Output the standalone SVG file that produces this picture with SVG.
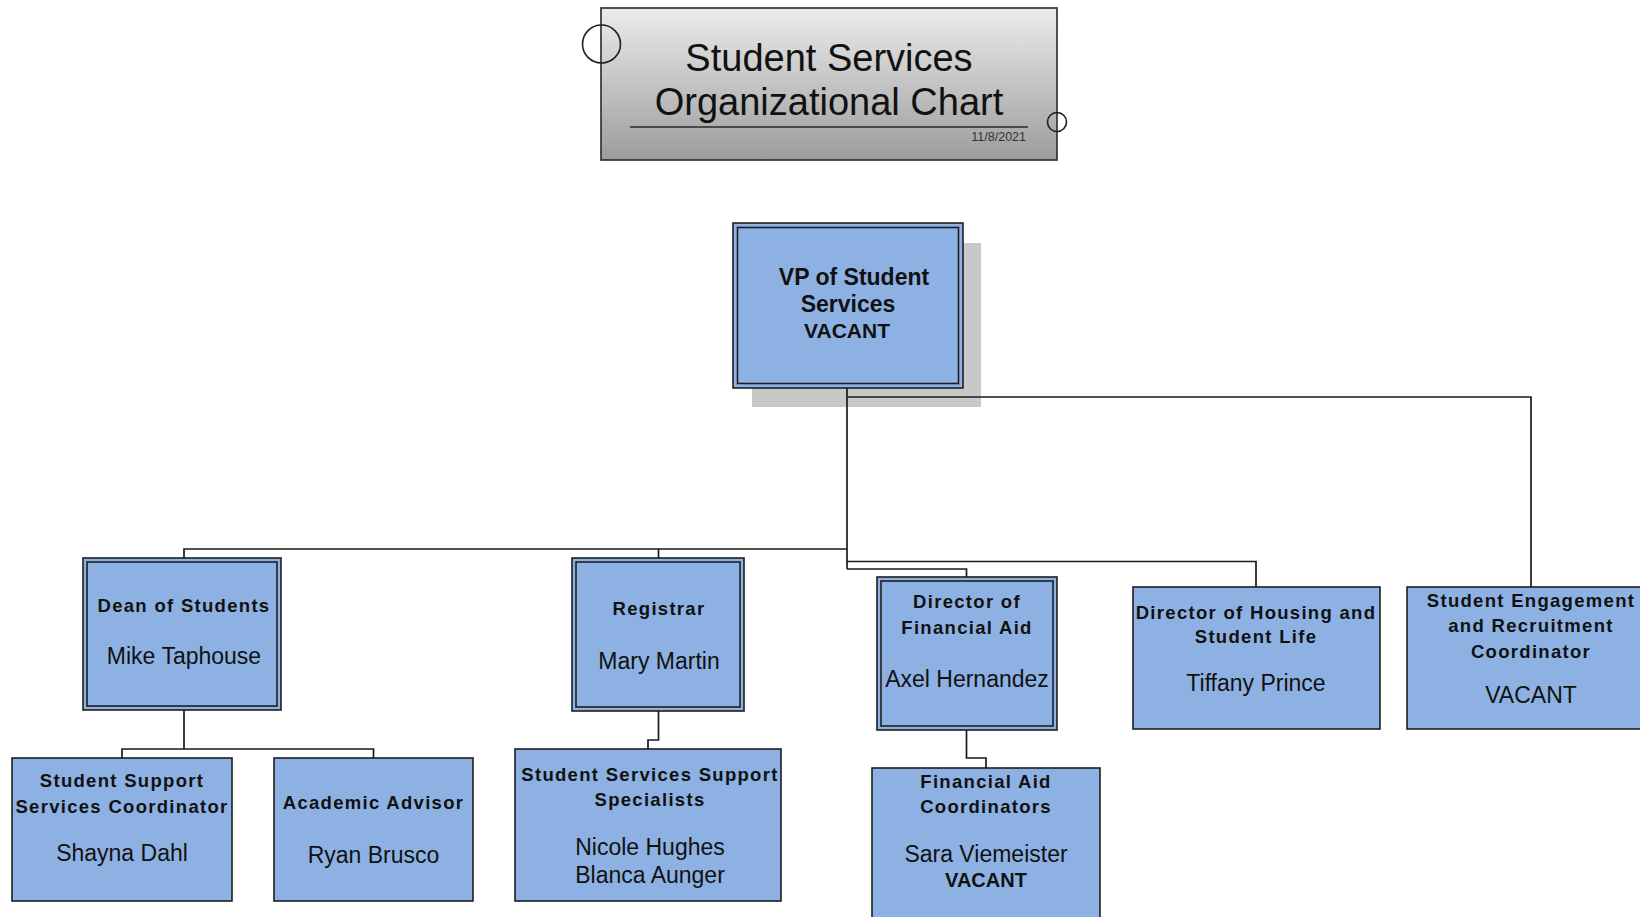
<svg xmlns="http://www.w3.org/2000/svg" width="1640" height="917" viewBox="0 0 1640 917">
<defs>
<linearGradient id="titleGrad" x1="0" y1="0" x2="0" y2="1">
<stop offset="0" stop-color="#ececec"/>
<stop offset="1" stop-color="#9c9c9c"/>
</linearGradient>
</defs>
<style>
.box{fill:#8eb1e4;stroke:#1e1e1e;stroke-width:1.6}
.inner{fill:none;stroke:#1e1e1e;stroke-width:1.6}
.lbl{font-family:"Liberation Sans",Arial,sans-serif;font-weight:bold;font-size:18.5px;letter-spacing:1.3px;fill:#111;text-anchor:middle}
.nm{font-family:"Liberation Sans",Arial,sans-serif;font-size:23px;fill:#111;text-anchor:middle}
.conn{fill:none;stroke:#1a1a1a;stroke-width:1.7}
</style>
<rect width="1640" height="917" fill="#ffffff"/>

<g id="title">
<rect x="601" y="8" width="456" height="152" fill="url(#titleGrad)" stroke="#2a2a2a" stroke-width="1.6"/>
<line x1="630" y1="127" x2="1028" y2="127" stroke="#2a2a2a" stroke-width="1.6"/>
<circle cx="601.5" cy="44" r="19" fill="none" stroke="#1e1e1e" stroke-width="1.6"/>
<circle cx="1057" cy="122" r="9.5" fill="none" stroke="#1e1e1e" stroke-width="1.6"/>
<text x="829" y="71" font-family="'Liberation Sans',Arial,sans-serif" font-size="38" fill="#111" text-anchor="middle">Student Services</text>
<text x="829" y="115" font-family="'Liberation Sans',Arial,sans-serif" font-size="38" fill="#111" text-anchor="middle">Organizational Chart</text>
<text x="1026" y="141" font-family="'Liberation Sans',Arial,sans-serif" font-size="12.5" fill="#333" text-anchor="end">11/8/2021</text>
</g>

<g id="vp">
<rect x="752" y="243" width="229" height="164" fill="#c8c8c8"/>
<rect class="box" x="733" y="223" width="230" height="165"/>
<rect class="inner" x="737.5" y="227.5" width="221" height="156"/>
<text x="854" y="285" font-family="'Liberation Sans',Arial,sans-serif" font-weight="bold" font-size="23" fill="#111" text-anchor="middle">VP of Student</text>
<text x="848" y="312" font-family="'Liberation Sans',Arial,sans-serif" font-weight="bold" font-size="23" fill="#111" text-anchor="middle">Services</text>
<text x="847" y="338" font-family="'Liberation Sans',Arial,sans-serif" font-weight="bold" font-size="21" fill="#111" text-anchor="middle">VACANT</text>
</g>

<g id="dean">
<rect class="box" x="83" y="558" width="198" height="152"/>
<rect class="inner" x="87" y="562" width="190" height="144"/>
<text class="lbl" x="184" y="612">Dean of Students</text>
<text class="nm" x="184" y="664">Mike Taphouse</text>
</g>

<g id="registrar">
<rect class="box" x="572" y="558" width="172" height="153"/>
<rect class="inner" x="576" y="562" width="164" height="145"/>
<text class="lbl" x="659" y="615">Registrar</text>
<text class="nm" x="659" y="669">Mary Martin</text>
</g>

<g id="finaid-director">
<rect class="box" x="877" y="577" width="180" height="153"/>
<rect class="inner" x="881" y="581" width="172" height="145"/>
<text class="lbl" x="967" y="608">Director of</text>
<text class="lbl" x="967" y="634">Financial Aid</text>
<text class="nm" x="967" y="687">Axel Hernandez</text>
</g>

<g id="housing">
<rect class="box" x="1133" y="587" width="247" height="142"/>
<text class="lbl" x="1256" y="619">Director of Housing and</text>
<text class="lbl" x="1256" y="643">Student Life</text>
<text class="nm" x="1256" y="691">Tiffany Prince</text>
</g>

<g id="engagement">
<rect class="box" x="1407" y="587" width="250" height="142"/>
<text class="lbl" x="1531" y="607">Student Engagement</text>
<text class="lbl" x="1531" y="632">and Recruitment</text>
<text class="lbl" x="1531" y="658">Coordinator</text>
<text class="nm" x="1531" y="703">VACANT</text>
</g>

<g id="support-coordinator">
<rect class="box" x="12" y="758" width="220" height="143"/>
<text class="lbl" x="122" y="787">Student Support</text>
<text class="lbl" x="122" y="813">Services Coordinator</text>
<text class="nm" x="122" y="861">Shayna Dahl</text>
</g>

<g id="academic-advisor">
<rect class="box" x="274" y="758" width="199" height="143"/>
<text class="lbl" x="373.5" y="809">Academic Advisor</text>
<text class="nm" x="373.5" y="863">Ryan Brusco</text>
</g>

<g id="support-specialists">
<rect class="box" x="515" y="749" width="266" height="152"/>
<text class="lbl" x="650" y="781">Student Services Support</text>
<text class="lbl" x="650" y="806">Specialists</text>
<text class="nm" x="650" y="855">Nicole Hughes</text>
<text class="nm" x="650" y="883">Blanca Aunger</text>
</g>

<g id="finaid-coordinators">
<rect class="box" x="872" y="768" width="228" height="160"/>
<text class="lbl" x="986" y="788">Financial Aid</text>
<text class="lbl" x="986" y="813">Coordinators</text>
<text class="nm" x="986" y="862">Sara Viemeister</text>
<text x="986" y="887" font-family="'Liberation Sans',Arial,sans-serif" font-weight="bold" font-size="20" fill="#111" text-anchor="middle">VACANT</text>
</g>

<g id="connectors">
<path class="conn" d="M847,388 V569"/>
<path class="conn" d="M184,558 V549 H847"/>
<path class="conn" d="M658.5,558 V549"/>
<path class="conn" d="M847,561.5 H1256 V587"/>
<path class="conn" d="M847,569 H966.5 V577"/>
<path class="conn" d="M847,397 H1531 V587"/>
<path class="conn" d="M184,710 V749 M122,758 V749 H373.5 V758"/>
<path class="conn" d="M658.5,711 V740 H648 V749"/>
<path class="conn" d="M966.5,730 V758 H986 V768"/>
</g>
</svg>
